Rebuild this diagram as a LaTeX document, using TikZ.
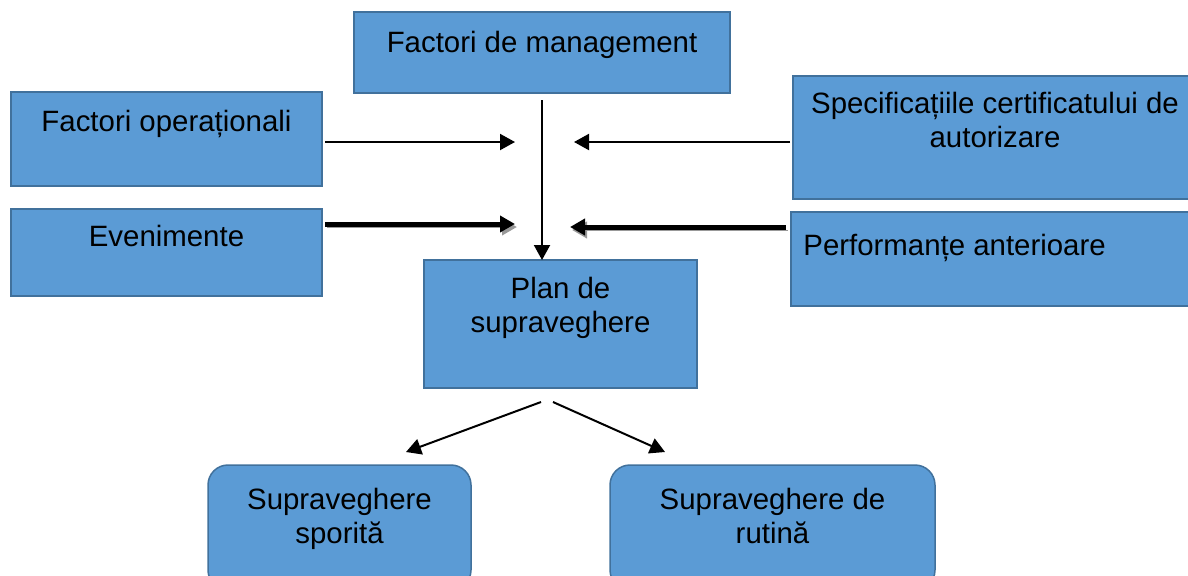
\documentclass[tikz,border=0pt]{standalone}
\usepackage{fontspec}
\setmainfont{Liberation Sans}
\usetikzlibrary{arrows.meta}

\definecolor{boxblue}{RGB}{91,155,213}
\definecolor{boxline}{RGB}{65,113,156}

\begin{document}
\begin{tikzpicture}[x=0.5pt,y=0.5pt,yscale=-1,
  box/.style={draw=boxline,fill=boxblue,line width=0.75pt,inner sep=0pt,outer sep=0pt},
  roundbox/.style={box,rounded corners=10pt},
  lbl/.style={inner sep=0pt,align=center,font=\fontsize{14.7}{16.7}\selectfont},
  thinarrow/.style={line width=1pt,-{Triangle[length=7.5pt,width=8pt]}},
  thickarrow/.style={line width=2.5pt,-{Triangle[length=7.5pt,width=8pt]},
    preaction={draw=black!40,transform canvas={shift={(1pt,-1.5pt)}}}}]

\useasboundingbox (0,0) rectangle (1188,575);

%Shape: Rectangles
\node [box,minimum width=188pt,minimum height=40.5pt] (fm) at (542,52.5) {};
\node [box,minimum width=155.5pt,minimum height=47pt] (fo) at (166.5,139) {};
\node [box,minimum width=155.5pt,minimum height=43.5pt] (ev) at (166.5,252.5) {};
\node [box,minimum width=199.5pt,minimum height=61.5pt] (sp) at (992.5,137.5) {};
\node [box,minimum width=200.5pt,minimum height=47pt] (pa) at (991.5,259) {};
\node [box,minimum width=136.5pt,minimum height=64pt] (plan) at (560.5,324) {};
%Shape: Rounded Rectangles
\node [roundbox,minimum width=131.5pt,minimum height=62.5pt] (ss) at (339.5,527.5) {};
\node [roundbox,minimum width=162.5pt,minimum height=62.5pt] (sr) at (772.5,527.5) {};

% Text Node
\node [lbl,anchor=base] (fmt) at (542,52) {Factori de management};
% Text Node
\node [lbl,anchor=base] (fot) at (166.5,131.5) {Factori operaționali};
% Text Node
\node [lbl,anchor=base] (evt) at (166.5,246.5) {Evenimente};
% Text Node
\node [lbl,anchor=base] (spt) at (995,147) {Specificațiile certificatului de\\autorizare};
% Text Node
\node [lbl,anchor=base west] (pat) at (803,255) {Performanțe anterioare};
% Text Node
\node [lbl,anchor=base] (plt) at (560.5,332) {Plan de\\supraveghere};
% Text Node
\node [lbl,anchor=base] (sst) at (339.5,543) {Supraveghere\\sporită};
% Text Node
\node [lbl,anchor=base] (srt) at (772.5,543) {Supraveghere de\\rutină};

%Free ends of the arrows
\coordinate (in1) at (515,142);
\coordinate (in2) at (574,142);
\coordinate (in3) at (515,224);
\coordinate (in4) at (570,227);
\coordinate (out1) at (541,402);
\coordinate (out2) at (553,402);
\coordinate (end1) at (406,452);
\coordinate (end2) at (665,452);

%Straight Lines
\draw [thinarrow,shorten <=1.5pt] (fo.east |- in1) -- (in1);
\draw [thinarrow,shorten <=1.5pt] (sp.west |- in2) -- (in2);
\draw [thickarrow,shorten <=1.5pt] (ev.east |- in3) -- (in3);
\draw [thickarrow,shorten <=2.5pt] (pa.west |- in4) -- (in4);
\draw [thinarrow,shorten <=3.5pt] (fm.south) -- (fm.south |- plan.north);
\draw [thinarrow] (out1) -- (end1);
\draw [thinarrow] (out2) -- (end2);

\end{tikzpicture}
\end{document}
